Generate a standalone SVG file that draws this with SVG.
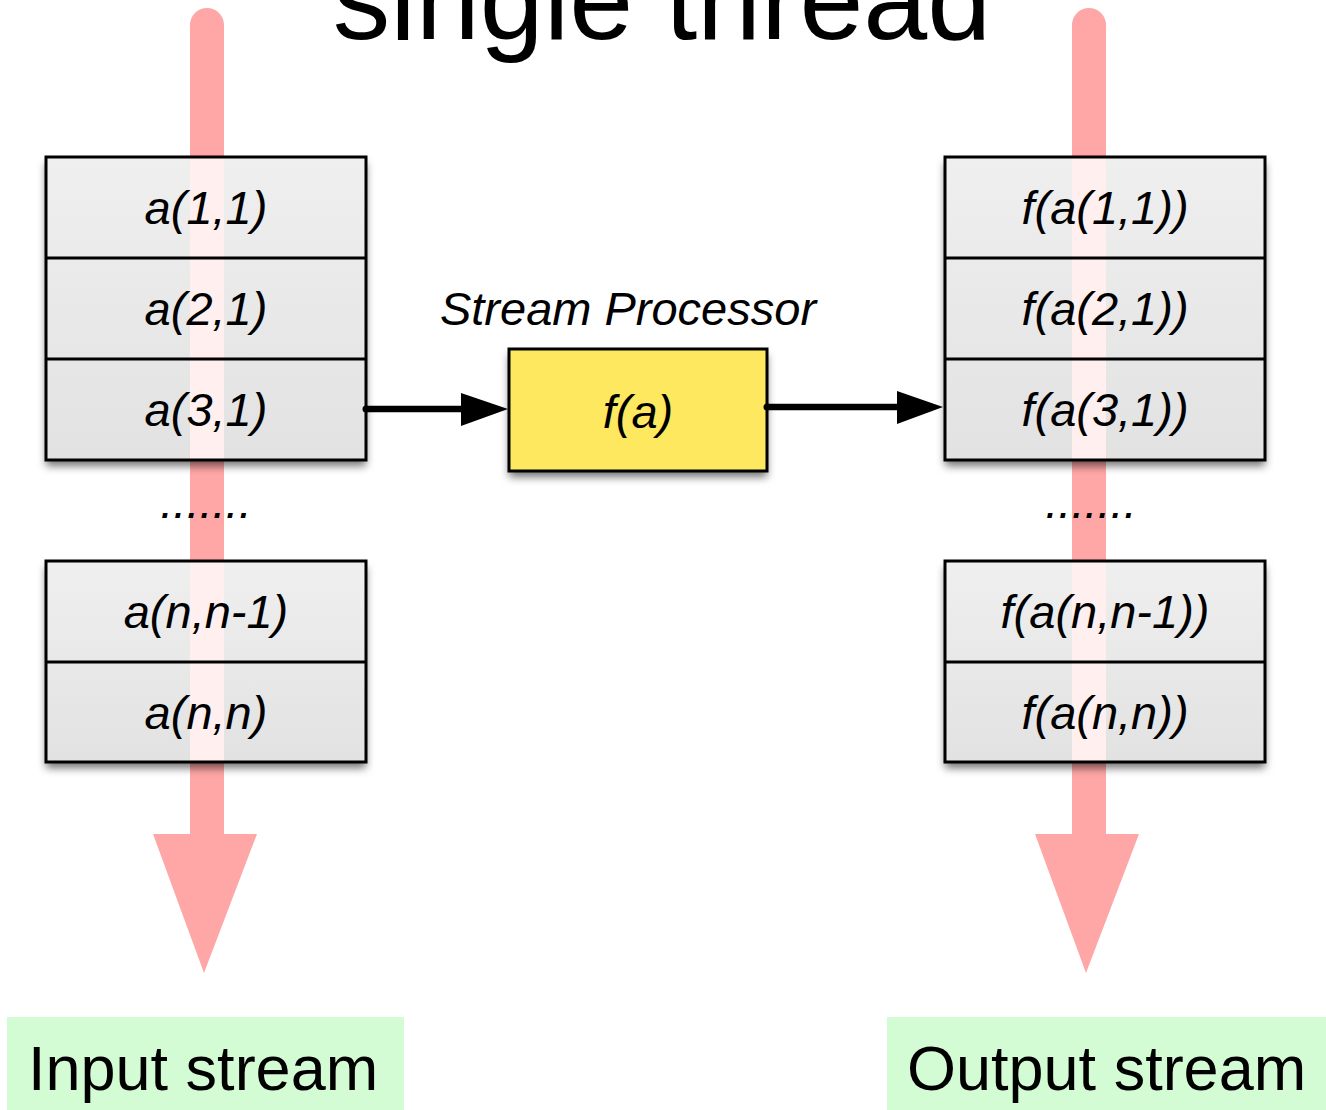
<svg xmlns="http://www.w3.org/2000/svg" width="1326" height="1110" viewBox="0 0 1326 1110">
<defs>
<filter id="sh" x="-10%" y="-10%" width="120%" height="130%">
<feDropShadow dx="0" dy="6" stdDeviation="4" flood-color="#000" flood-opacity="0.55"/>
</filter>
<linearGradient id="cell" x1="0" y1="0" x2="0" y2="1">
<stop offset="0" stop-color="#efefef"/>
<stop offset="1" stop-color="#e2e2e2"/>
</linearGradient>
<style>
.cell{fill:url(#cell);}
.ov{fill:#fff0ef;}
.bd{fill:none;stroke:#000;stroke-width:3;}
.t{font-family:"Liberation Sans",Arial,sans-serif;font-style:italic;font-size:47px;fill:#000;text-anchor:middle;}
.lbl{font-family:"Liberation Sans",Arial,sans-serif;font-size:63px;fill:#000;}
.shaft{fill:#ffa6a6;}
.conn{stroke:#000;stroke-width:6.5;fill:none;}
</style>
</defs>
<rect width="1326" height="1110" fill="#fff"/>
<text x="662" y="39" font-family="Liberation Sans,Arial,sans-serif" font-size="115" text-anchor="middle">single thread</text>

<g id="input-stream-arrow">
<path class="shaft" d="M190,25 A17,17 0 0 1 224,25 L224,834 L257,834 L204,973 L153,834 L190,834 z"/>
</g>
<g id="output-stream-arrow">
<path class="shaft" d="M1072,25 A17,17 0 0 1 1106,25 L1106,834 L1139,834 L1086,973 L1035,834 L1072,834 z"/>
</g>

<g id="input-top">
<rect x="46" y="157" width="320" height="303" class="cell" filter="url(#sh)"/>
<rect x="190" y="157" width="34" height="303" class="ov"/>
<rect x="46" y="157" width="320" height="303" class="bd"/>
<line x1="46" y1="258" x2="366" y2="258" class="bd"/>
<line x1="46" y1="359" x2="366" y2="359" class="bd"/>
<text x="206" y="224" class="t">a(1,1)</text>
<text x="206" y="325" class="t">a(2,1)</text>
<text x="206" y="426" class="t">a(3,1)</text>
</g>
<g id="input-bottom">
<rect x="46" y="561" width="320" height="201" class="cell" filter="url(#sh)"/>
<rect x="190" y="561" width="34" height="201" class="ov"/>
<rect x="46" y="561" width="320" height="201" class="bd"/>
<line x1="46" y1="662" x2="366" y2="662" class="bd"/>
<text x="206" y="628" class="t">a(n,n-1)</text>
<text x="206" y="729" class="t">a(n,n)</text>
</g>
<text x="206" y="518" class="t">.......</text>

<g id="output-top">
<rect x="945" y="157" width="320" height="303" class="cell" filter="url(#sh)"/>
<rect x="1072" y="157" width="34" height="303" class="ov"/>
<rect x="945" y="157" width="320" height="303" class="bd"/>
<line x1="945" y1="258" x2="1265" y2="258" class="bd"/>
<line x1="945" y1="359" x2="1265" y2="359" class="bd"/>
<text x="1105" y="224" class="t">f(a(1,1))</text>
<text x="1105" y="325" class="t">f(a(2,1))</text>
<text x="1105" y="426" class="t">f(a(3,1))</text>
</g>
<g id="output-bottom">
<rect x="945" y="561" width="320" height="201" class="cell" filter="url(#sh)"/>
<rect x="1072" y="561" width="34" height="201" class="ov"/>
<rect x="945" y="561" width="320" height="201" class="bd"/>
<line x1="945" y1="662" x2="1265" y2="662" class="bd"/>
<text x="1105" y="628" class="t">f(a(n,n-1))</text>
<text x="1105" y="729" class="t">f(a(n,n))</text>
</g>
<text x="1091" y="518" class="t">.......</text>

<g id="processor">
<text x="628" y="325" class="t">Stream Processor</text>
<rect x="509" y="349" width="258" height="122" fill="#fee85e" filter="url(#sh)"/>
<rect x="509" y="349" width="258" height="122" class="bd"/>
<text x="638" y="428" class="t">f(a)</text>
</g>

<g id="connectors">
<line x1="366" y1="409" x2="462" y2="409" class="conn"/>
<path d="M461,393 L508,409 L461,426 z" fill="#000"/>
<circle cx="366" cy="409" r="3.5" fill="#000"/>
<line x1="767" y1="407" x2="898" y2="407" class="conn"/>
<path d="M897,391 L943,407 L897,424 z" fill="#000"/>
<circle cx="767" cy="407" r="3.5" fill="#000"/>
</g>

<g id="input-label">
<rect x="7" y="1017" width="397" height="93" fill="#d4fcd4"/>
<text x="28" y="1090" class="lbl">Input stream</text>
</g>
<g id="output-label">
<rect x="887" y="1017" width="439" height="93" fill="#d4fcd4"/>
<text x="907" y="1090" class="lbl">Output stream</text>
</g>
</svg>
